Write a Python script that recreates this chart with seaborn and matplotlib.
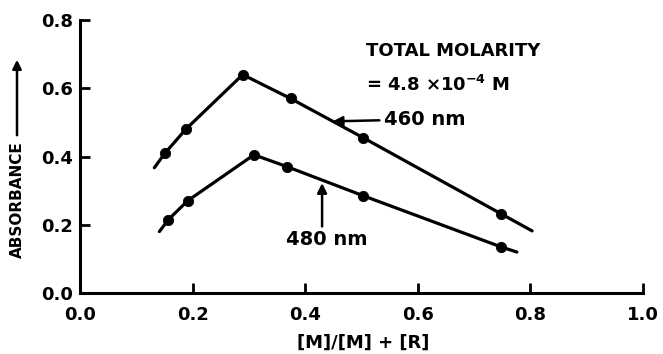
import matplotlib
matplotlib.use("Agg")
import matplotlib.pyplot as plt
import seaborn as sns
import pandas as pd

# Measured points
x_460 = [0.151, 0.188, 0.289, 0.374, 0.503, 0.748]
y_460 = [0.410, 0.480, 0.640, 0.570, 0.455, 0.232]
x_480 = [0.157, 0.191, 0.309, 0.368, 0.503, 0.748]
y_480 = [0.215, 0.270, 0.405, 0.370, 0.285, 0.135]

# Drawn curves (including the extended ends)
curve_x_460 = [0.132, 0.151, 0.188, 0.289, 0.374, 0.503, 0.748, 0.803]
curve_y_460 = [0.367, 0.410, 0.480, 0.640, 0.570, 0.455, 0.232, 0.182]
curve_x_480 = [0.141, 0.157, 0.191, 0.309, 0.368, 0.503, 0.748, 0.776]
curve_y_480 = [0.180, 0.215, 0.270, 0.405, 0.370, 0.285, 0.135, 0.120]

x_ticks = [0.0, 0.2, 0.4, 0.6, 0.8, 1.0]
y_ticks = [0.0, 0.2, 0.4, 0.6, 0.8]

sns.set_theme(style="ticks")
plt.rcParams['font.family'] = ['DejaVu Sans']
plt.rcParams['font.weight'] = 'bold'
plt.rcParams['text.color'] = 'black'
plt.rcParams['axes.labelcolor'] = 'black'

fig = plt.figure(figsize=(6.63, 3.54), dpi=100)
ax = fig.add_axes([80/663, 1-293/354, (643-80)/663, (293-20)/354])

c1 = pd.DataFrame({"x": curve_x_460, "y": curve_y_460})
c2 = pd.DataFrame({"x": curve_x_480, "y": curve_y_480})
sns.lineplot(data=c1, x="x", y="y", sort=False, color="black", lw=2.3, ax=ax)
sns.lineplot(data=c2, x="x", y="y", sort=False, color="black", lw=2.3, ax=ax)
p1 = pd.DataFrame({"x": x_460, "y": y_460})
p2 = pd.DataFrame({"x": x_480, "y": y_480})
sns.scatterplot(data=p1, x="x", y="y", color="black", s=55, edgecolor="black", ax=ax, zorder=3)
sns.scatterplot(data=p2, x="x", y="y", color="black", s=55, edgecolor="black", ax=ax, zorder=3)

ax.set_xlim(0, 1.0)
ax.set_ylim(0, 0.8)
ax.set_xticks(x_ticks)
ax.set_yticks(y_ticks)
ax.set_xticklabels([f"{v:.1f}" for v in x_ticks], fontsize=13, fontweight='bold')
ax.set_yticklabels([f"{v:.1f}" for v in y_ticks], fontsize=13, fontweight='bold')
ax.tick_params(axis='both', direction='in', length=7, width=2, colors='black')
ax.tick_params(axis='x', pad=9.5)
ax.tick_params(axis='y', pad=5)
for s in ['top', 'right']:
    ax.spines[s].set_visible(False)
for s in ['left', 'bottom']:
    ax.spines[s].set_linewidth(2.2)
    ax.spines[s].set_color('black')

ax.set_xlabel("[M]/[M] + [R]", fontsize=13, fontweight='bold', va='center')
ax.xaxis.set_label_coords((363-80)/563, -(343-293)/273)
ax.set_ylabel("")

# y label with its upward arrow
fig.text(17/663, 1-200/354, "ABSORBANCE", rotation=90, fontsize=11, fontweight='bold',
         ha='center', va='center')
fig.add_artist(matplotlib.patches.FancyArrowPatch(
    (17/663, 1-138/354), (17/663, 1-57/354), transform=fig.transFigure,
    arrowstyle='-|>', mutation_scale=13, color='black', lw=1.8))

ax.text(0.508, 0.709, "TOTAL MOLARITY", fontsize=13, fontweight='bold', va='center', ha='left')
ax.text(0.508, 0.609, "= 4.8 \u00d710$^{\\mathbf{-4}}$ M", fontsize=13, fontweight='bold', va='center', ha='left')

ax.annotate("460 nm", xy=(0.449, 0.503), xytext=(0.540, 0.509), fontsize=14, fontweight='bold',
            va='center', ha='left',
            arrowprops=dict(arrowstyle='-|>', color='black', lw=1.8, mutation_scale=14, shrinkA=1, shrinkB=0))
ax.annotate("", xy=(0.43, 0.322), xytext=(0.43, 0.195),
            arrowprops=dict(arrowstyle='-|>', color='black', lw=1.8, mutation_scale=14, shrinkA=0, shrinkB=0))
ax.text(0.438, 0.156, "480 nm", fontsize=14, fontweight='bold', va='center', ha='center')

fig.savefig("out.png", dpi=100)
